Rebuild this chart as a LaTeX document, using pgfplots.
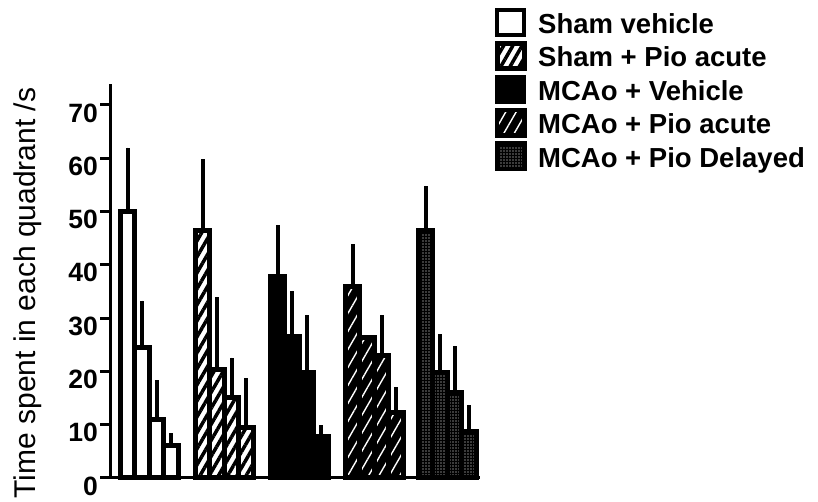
\documentclass[border=0pt]{standalone}
\usepackage{pgfplots}
\pgfplotsset{compat=1.18}
\usetikzlibrary{patterns,patterns.meta}
\usepackage{fontspec}
\setmainfont{Liberation Sans}

\pgfplotsset{
  mybar/.style={ybar, bar width=14.4pt, bar shift=0pt, draw=black, line width=5pt,
    error bars/.cd, y dir=plus, y explicit, error mark=none,
    error bar style={line width=4pt, black},
    /pgfplots/.cd,
    legend image code/.code={\draw[##1, line width=4pt] (2pt,-8pt) rectangle (29pt,17pt);}},
}

\begin{document}
\begin{tikzpicture}
\useasboundingbox (0pt,0pt) rectangle (818pt,502pt);
\begin{axis}[
  at={(110pt,24pt)}, anchor=south west,
  scale only axis, width=370pt, height=394.35pt,
  xmin=110, xmax=480, ymin=0, ymax=74,
  clip=false,
  axis x line*=bottom, axis y line*=left,
  axis line style={-, line width=3pt, black},
  xtick=\empty,
  ytick={0,10,...,70},
  tick align=outside,
  major tick length=10pt,
  ytick style={line width=3pt, black},
  yticklabel style={font=\bfseries\fontsize{26.5}{30}\selectfont, inner sep=2pt, yshift=-8pt},
  /pgf/number format/assume math mode=true,
  ylabel={Time spent in each quadrant /s},
  ylabel style={font=\fontsize{30}{34}\selectfont, at={(axis cs:28,34.7)}, anchor=center},
  legend cell align=left,
  legend style={at={(axis cs:495,88.3)}, anchor=north west, draw=none, fill=none,
    font=\bfseries\fontsize{27.5}{30}\selectfont, row sep=0pt, inner sep=0pt,
    nodes={text height=19pt, text depth=6pt},
    /tikz/every odd column/.append style={column sep=10pt}},
]
\addplot[mybar, fill=white] coordinates {
  (127.7,50.0) +- (0,12.0)
  (142.1,24.4) +- (0,8.9)
  (156.5,10.9) +- (0,7.4)
  (170.9,6.1)  +- (0,2.3)
};
\addlegendentry{Sham vehicle}
\addplot[mybar, preaction={fill=white}, pattern={Lines[angle=60,distance=8pt,line width=3.5pt]}, pattern color=black] coordinates {
  (202.7,46.5) +- (0,13.3)
  (217.1,20.4) +- (0,13.5)
  (231.5,15.1) +- (0,7.5)
  (245.9,9.5)  +- (0,9.2)
};
\addlegendentry{Sham + Pio acute}
\addplot[mybar, fill=black] coordinates {
  (277.7,37.9) +- (0,9.6)
  (292.1,26.6) +- (0,8.5)
  (306.5,19.8) +- (0,10.8)
  (320.9,7.7)  +- (0,2.2)
};
\addlegendentry{MCAo + Vehicle}
\addplot[mybar, preaction={fill=black}, pattern={Lines[angle=60,distance=9pt,line width=1.4pt]}, pattern color=white] coordinates {
  (352.7,35.9) +- (0,8.0)
  (367.1,26.4) +- (0,0)
  (381.5,22.9) +- (0,7.7)
  (395.9,12.3) +- (0,4.8)
};
\addlegendentry{MCAo + Pio acute}
\addplot[mybar, preaction={fill=black}, pattern={Dots[distance=3pt,radius=0.6pt]}, pattern color=white] coordinates {
  (425.7,46.5) +- (0,8.3)
  (440.1,19.8) +- (0,7.2)
  (454.5,16.0) +- (0,8.8)
  (468.9,8.7)  +- (0,5.0)
};
\addlegendentry{MCAo + Pio Delayed}
\end{axis}
\end{tikzpicture}
\end{document}
